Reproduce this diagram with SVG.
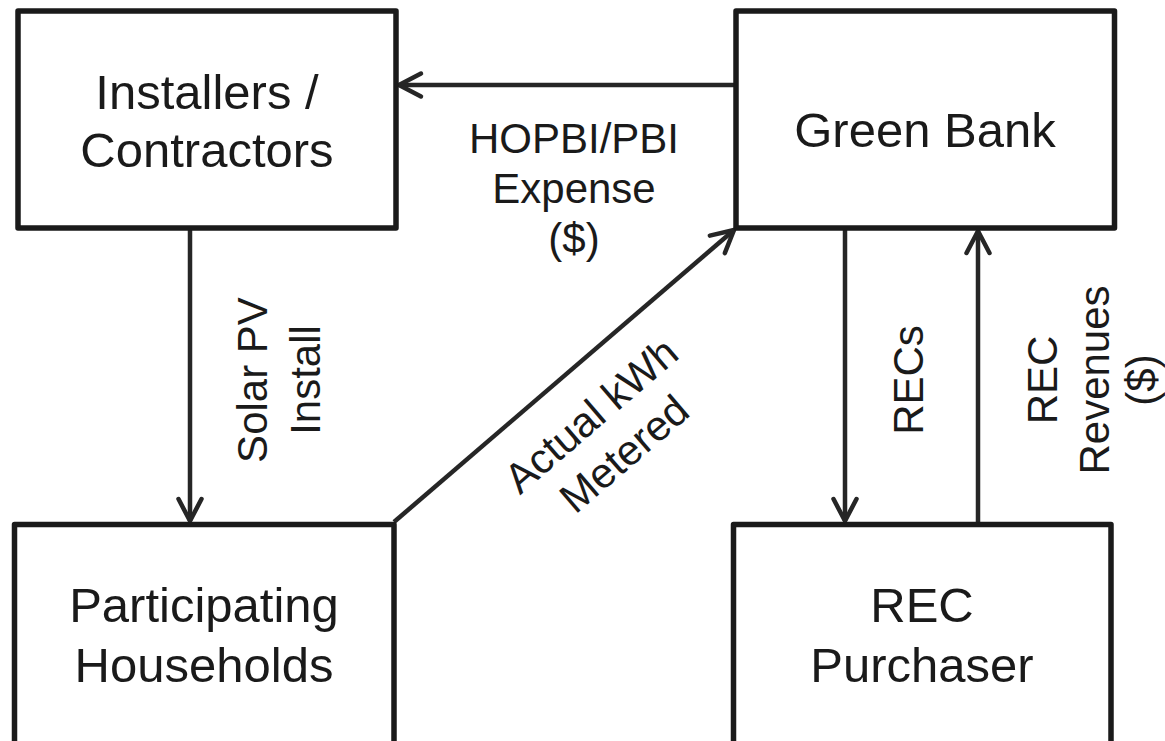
<svg xmlns="http://www.w3.org/2000/svg" width="1165" height="741" viewBox="0 0 1165 741">
<defs>
<style>
.box{fill:#fff;stroke:#1a1a1a;stroke-width:5.5;stroke-linejoin:round}
.bt{font-family:"Liberation Sans",Arial,sans-serif;font-size:49px;fill:#1a1a1a;text-anchor:middle}
.lt{font-family:"Liberation Sans",Arial,sans-serif;font-size:42px;fill:#1a1a1a;text-anchor:middle}
.conn{fill:none;stroke:#262626;stroke-width:4.5;marker-end:url(#arr)}
</style>
<marker id="arr" markerUnits="userSpaceOnUse" markerWidth="40" markerHeight="40" viewBox="-30 -20 40 40" refX="0" refY="0" orient="auto">
<path d="M -22 -11.5 L 0 0 L -22 11.5" fill="none" stroke="#262626" stroke-width="4.5" stroke-linecap="round" stroke-linejoin="miter"/>
</marker>
</defs>
<rect width="1165" height="741" fill="#fff"/>
<g id="connectors">
<path class="conn" d="M736 85 L399 85"/>
<path class="conn" d="M190 228 L190 521"/>
<path class="conn" d="M394 522 L734 230"/>
<path class="conn" d="M845 228 L845 521"/>
<path class="conn" d="M978 522 L978 231"/>
</g>
<g id="installers">
<rect class="box" x="18" y="11" width="378" height="217"/>
<text class="bt" x="207" y="109">Installers /</text>
<text class="bt" x="207" y="167">Contractors</text>
</g>
<g id="greenbank">
<rect class="box" x="736" y="11" width="378.5" height="217"/>
<text class="bt" x="925" y="147">Green Bank</text>
</g>
<g id="households">
<rect class="box" x="14.5" y="524.5" width="379.5" height="240"/>
<text class="bt" x="204" y="622">Participating</text>
<text class="bt" x="204" y="682">Households</text>
</g>
<g id="purchaser">
<rect class="box" x="733.5" y="524.5" width="377.5" height="240"/>
<text class="bt" x="922" y="622">REC</text>
<text class="bt" x="922" y="682">Purchaser</text>
</g>
<g id="labels">
<text class="lt" x="574" y="152.7">HOPBI/PBI</text>
<text class="lt" x="574" y="202.7">Expense</text>
<text class="lt" x="574" y="253">($)</text>
<text class="lt" transform="translate(267,380) rotate(-90)"><tspan x="0" y="0">Solar PV</tspan><tspan x="0" y="53">Install</tspan></text>
<text class="lt" transform="translate(923,380) rotate(-90)">RECs</text>
<text class="lt" transform="translate(1057,380) rotate(-90)"><tspan x="0" y="0">REC</tspan><tspan x="0" y="52">Revenues</tspan><tspan x="0" y="99">($)</tspan></text>
<text class="lt" transform="translate(600.4,426.2) rotate(-40.7)"><tspan x="0" y="0">Actual kWh</tspan><tspan x="0" y="51">Metered</tspan></text>
</g>
</svg>
